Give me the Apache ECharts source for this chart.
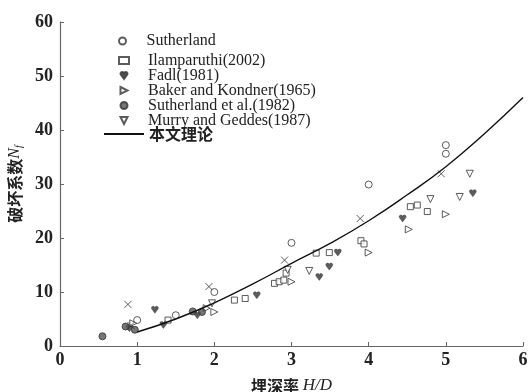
<!DOCTYPE html>
<html>
<head>
<meta charset="utf-8">
<script src="https://cdn.jsdelivr.net/npm/echarts@6/dist/echarts.min.js"></script>
<style>
html,body{margin:0;padding:0;background:#fff;}
#chart{width:529px;height:392px;}
</style>
</head>
<body>
<div id="chart"></div>
<script>
// Breakout factor N_f versus embedment ratio H/D: test data and theory curve
const xTicks = [0, 1, 2, 3, 4, 5, 6];
const yTicks = [0, 10, 20, 30, 40, 50, 60];

const sutherland = [[1.0,4.8],[1.5,5.7],[2.0,10.0],[3.0,19.1],[4.0,29.9],[5.0,37.2],[5.0,35.6]];
const ilamparuthi = [[1.4,4.8],[2.26,8.5],[2.4,8.8],[2.78,11.6],[2.84,11.9],[2.9,12.2],[2.93,13.5],
  [3.32,17.2],[3.49,17.3],[3.9,19.5],[3.94,18.9],[4.54,25.8],[4.63,26.1],[4.76,24.9]];
const fadl = [[0.9,3.3],[1.23,6.7],[1.34,3.9],[1.78,5.7],[2.55,9.4],[3.36,12.8],[3.49,14.7],
  [3.6,17.3],[4.44,23.6],[5.35,28.3]];
const baker = [[0.95,4.2],[1.9,7.0],[2.0,6.3],[3.0,11.9],[4.0,17.3],[4.52,21.6],[5.0,24.4]];
const sutherlandEtAl = [[0.55,1.8],[0.85,3.6],[0.97,3.0],[1.72,6.4],[1.84,6.3]];
const murry = [[1.97,7.9],[2.95,14.1],[3.23,13.9],[4.8,27.2],[5.18,27.6],[5.31,31.9]];
const crosses = [[0.88,7.7],[0.92,3.8],[1.93,11.0],[2.91,15.9],[3.89,23.6],[4.94,31.9]];
const theory = [[1,2.6],[1.5,5.0],[2,8.0],[2.5,11.5],[3,15.3],[3.5,19.0],[4,23.2],[4.5,28.0],[5,33.2],[5.5,39.3],[6,46.0]];

const markerNames = ['Sutherland', 'Ilamparuthi(2002)', 'Fadl(1981)', 'Baker and Kondner(1965)',
  'Sutherland et al.(1982)', 'Murry and Geddes(1987)'];
const theoryName = '本文理论';

const ink = '#333';
const serif = '"Liberation Serif", "DejaVu Serif", serif';
const cjk = '"Noto Sans CJK SC", sans-serif';

// marker shapes
const triRight = 'path://M0,0L10,5L0,10Z';
const triDown = 'path://M0,0L10,0L5,10Z';
const heart = 'path://M5,10L0.5,4C-1,1.5 1,0 2.5,0C3.8,0 4.6,0.8 5,1.8C5.4,0.8 6.2,0 7.5,0C9,0 11,1.5 9.5,4Z';
const cross = 'path://M0,0L10,10M10,0L0,10';

const openStyle = {color: '#fff', borderColor: ink, borderWidth: 1};
const filledStyle = {color: ink, borderColor: ink, borderWidth: 0.5};

function scatter(name, data, symbol, style, size) {
  return {
    name: name, type: 'scatter', data: data, symbol: symbol,
    symbolSize: size || 7, itemStyle: style, z: 3
  };
}

const legendText = {fontFamily: serif, fontSize: 16, color: '#222', padding: [0, 0, 0, 14]};

const chart = echarts.init(document.getElementById('chart'));
chart.setOption({
  animation: false,
  backgroundColor: '#fff',
  grid: {left: 60, right: 6, top: 22, bottom: 46, containLabel: false, outerBoundsMode: 'none'},
  legend: [{
    orient: 'vertical', left: 113, top: 28,
    itemWidth: 10, itemHeight: 7, itemGap: -1,
    data: markerNames.slice(0, 1), textStyle: legendText
  }, {
    orient: 'vertical', left: 113, top: 47.5,
    itemWidth: 10, itemHeight: 7, itemGap: -1,
    data: markerNames.slice(1), textStyle: legendText
  }, {
    orient: 'vertical', left: 98, top: 121,
    itemWidth: 40, itemHeight: 1.6,
    data: [theoryName],
    textStyle: {fontFamily: cjk, fontSize: 16, fontWeight: 'bold', color: '#222'}
  }],
  xAxis: {
    type: 'value', min: 0, max: 6, interval: 1,
    name: '{a|埋深率 }{i|H/D}', nameLocation: 'middle', nameGap: 31,
    nameTextStyle: {rich: {
      a: {fontFamily: cjk, fontSize: 16, fontWeight: 'bold', color: '#222'},
      i: {fontFamily: serif, fontSize: 17, fontStyle: 'italic', color: '#222'}}},
    axisLine: {lineStyle: {color: '#666', width: 1.2}},
    axisTick: {inside: true, length: 4, lineStyle: {color: '#666'}},
    axisLabel: {fontFamily: serif, fontSize: 18, fontWeight: 'bold', color: '#222', margin: 5,
      formatter: function (v) { return xTicks.indexOf(v) >= 0 ? String(v) : ''; }},
    splitLine: {show: false}
  },
  yAxis: {
    type: 'value', min: 0, max: 60, interval: 10,
    name: '{a|破坏系数}{i|N}{s|f}', nameLocation: 'middle', nameGap: 34, nameRotate: 90,
    nameTextStyle: {rich: {
      a: {fontFamily: cjk, fontSize: 16, fontWeight: 'bold', color: '#222'},
      i: {fontFamily: serif, fontSize: 16, fontStyle: 'italic', color: '#222'},
      s: {fontFamily: serif, fontSize: 10, fontStyle: 'italic', color: '#222', padding: [8, 0, 0, 0]}}},
    axisLine: {show: true, lineStyle: {color: '#666', width: 1.2}},
    axisTick: {show: true, inside: true, length: 4, lineStyle: {color: '#666'}},
    axisLabel: {fontFamily: serif, fontSize: 18, fontWeight: 'bold', color: '#222', margin: 7,
      formatter: function (v) { return yTicks.indexOf(v) >= 0 ? String(v) : ''; }},
    splitLine: {show: false}
  },
  series: [
    scatter(markerNames[0], sutherland, 'circle', openStyle),
    scatter(markerNames[1], ilamparuthi, 'rect', openStyle, 6),
    scatter(markerNames[2], fadl, heart, filledStyle, 7),
    scatter(markerNames[3], baker, triRight, openStyle),
    scatter(markerNames[4], sutherlandEtAl, 'circle', {color: '#555', borderColor: ink, borderWidth: 1}),
    scatter(markerNames[5], murry, triDown, openStyle),
    scatter('cross', crosses, cross, {color: 'none', borderColor: ink, borderWidth: 1}),
    {
      name: theoryName, type: 'line', data: theory, smooth: true,
      symbol: 'none', showSymbol: false, legendIcon: 'rect',
      lineStyle: {color: '#111', width: 1.4}, itemStyle: {color: '#111'}, z: 4
    }
  ]
});
</script>
</body>
</html>
